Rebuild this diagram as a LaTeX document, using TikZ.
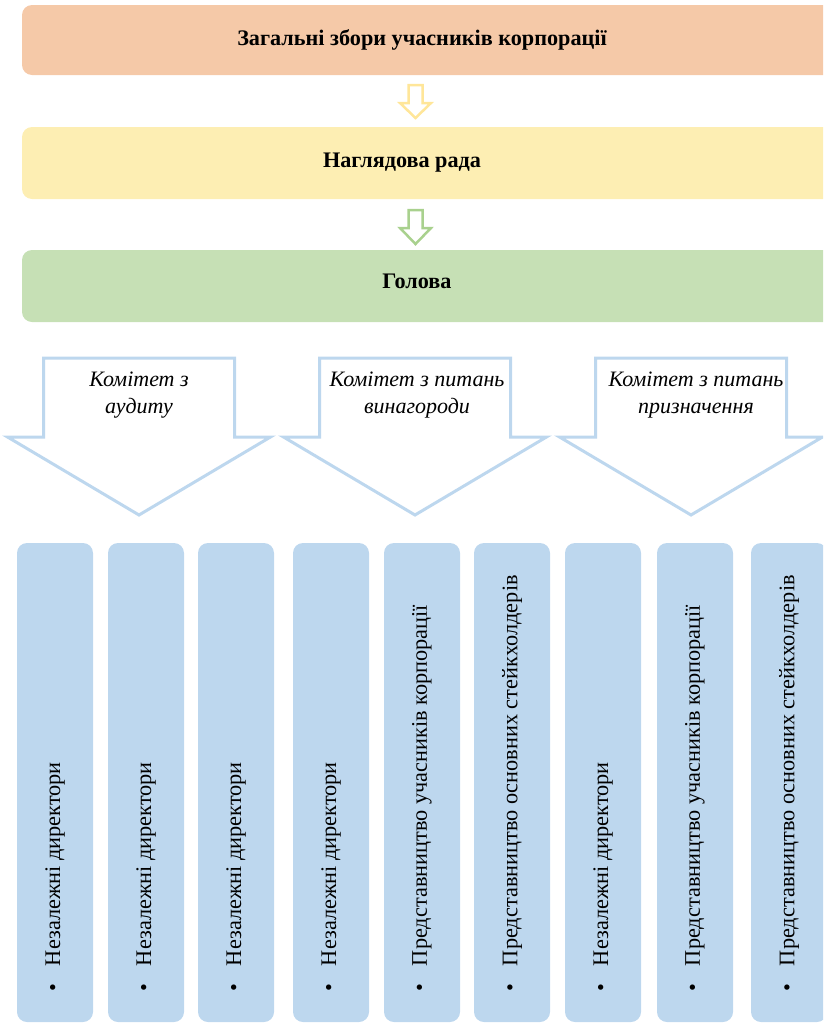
\documentclass[tikz,border=0pt]{standalone}
\usepackage{fontspec}
\setmainfont{Liberation Serif}
\definecolor{orangebox}{HTML}{F5C9A8}
\definecolor{yellowbox}{HTML}{FDEEB3}
\definecolor{greenbox}{HTML}{C6E0B5}
\definecolor{bluebox}{HTML}{BDD7EE}
\definecolor{yellowline}{HTML}{FFE699}
\definecolor{greenline}{HTML}{A9D18E}
\begin{document}
\begin{tikzpicture}[x=1pt,y=-1pt,
  band/.style={rounded corners=10pt},
  bandtext/.style={font=\fontsize{22.2}{26}\selectfont\bfseries, inner sep=0pt},
  bigarrow/.style={draw=bluebox, line width=3pt, fill=white, line join=miter},
  smallarrow/.style={line width=2.5pt, fill=white},
  comtext/.style={font=\fontsize{22}{27}\selectfont\itshape, align=center, inner sep=0pt},
  column/.style={fill=bluebox, rounded corners=10pt},
  coltext/.style={font=\fontsize{22.3}{26}\selectfont, rotate=90, anchor=west, inner sep=0pt}
]
\useasboundingbox (0,0) rectangle (823,1023);
\clip (0,0) rectangle (823,1023);
% bands
\fill[band, orangebox] (22,5) rectangle (840,75);
\node[bandtext] (t1) at (422,40) {Загальні збори учасників корпорації};
\fill[band, yellowbox] (22,127) rectangle (840,199);
\node[bandtext] (t2) at (402,163) {Наглядова рада};
\fill[band, greenbox] (22,250) rectangle (840,322);
\node[bandtext] (t3) at (417,281) {Голова};
% small arrows
\draw[smallarrow, draw=yellowline] (408.5,85) -- (422.5,85) -- (422.5,103) -- (431,103) -- (415.5,118) -- (400,103) -- (408.5,103) -- cycle;
\draw[smallarrow, draw=greenline] (408.5,210) -- (422.5,210) -- (422.5,228) -- (431,228) -- (415.5,244) -- (400,228) -- (408.5,228) -- cycle;
% big arrows
\foreach \c in {139,415,691}{
  \draw[bigarrow] (\c-95.5,358) -- (\c+95.5,358) -- (\c+95.5,437) -- (\c+131.5,437) -- (\c,515) -- (\c-131.5,437) -- (\c-95.5,437) -- cycle;
}
\node[comtext] (c1) at (139,395) {Комітет з\\аудиту};
\node[comtext] (c2) at (417,395) {Комітет з питань\\винагороди};
\node[comtext] (c3) at (696,395) {Комітет з питань\\призначення};
% columns
\foreach \x/\t [count=\i] in {17/Незалежні директори,108/Незалежні директори,198/Незалежні директори,293/Незалежні директори,384/Представництво учасників корпорації,474/Представництво основних стейкхолдерів,565/Незалежні директори,657/Представництво учасників корпорації,751/Представництво основних стейкхолдерів}{
  \fill[column] (\x,543) rectangle (\x+76,1022);
  \node[coltext] (col\i) at (\x+38,992) {•\hspace{18pt}\t};
}
\end{tikzpicture}
\end{document}
